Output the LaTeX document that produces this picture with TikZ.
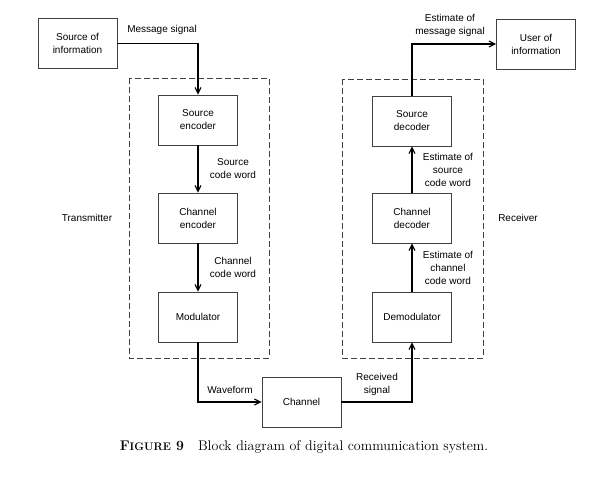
\documentclass[tikz,border=0pt]{standalone}
\usepackage{fontspec}
\setsansfont{Liberation Sans}
\usetikzlibrary{arrows.meta}
\tikzset{
    block/.style={draw=black!75, line width=0.7pt, minimum width=79pt, minimum height=50pt,
		align=center, font=\sffamily\fontsize{10}{13}\selectfont},
    lbl/.style={align=center, font=\sffamily\fontsize{10}{13}\selectfont},
    flow/.style={->, line width=1.1pt},
    unit/.style={draw=black!75, dashed, dash pattern=on 6pt off 3pt, line width=0.8pt}
}

\begin{document}
\begin{tikzpicture}[x=1pt, y=-1pt, >={Straight Barb[length=6pt,width=6pt]}]
			\useasboundingbox (0,0) rectangle (599,488);
			% dashed units
			\draw[unit] (129,78) rectangle (269,358);
			\draw[unit] (342,79) rectangle (483,358);
			\node[lbl] (tx) at (87,218) {Transmitter};
			\node[lbl] (rx) at (518,218) {Receiver};
			% blocks
			\node[block] (src) at (77.5,43.5) {Source of\\information};
			\node[block] (srcenc) at (198,120) {Source\\encoder};
			\node[block] (chenc) at (198,218) {Channel\\encoder};
			\node[block] (mod) at (198,317) {Modulator};
			\node[block] (chan) at (301.5,402) {Channel};
			\node[block] (demod) at (412,317) {Demodulator};
			\node[block] (chdec) at (412,218) {Channel\\decoder};
			\node[block] (srcdec) at (412,121) {Source\\decoder};
			\node[block] (user) at (536,44) {User of\\information};
			% connectors
			\draw[flow] (src.east) -| (srcenc.north);
			\draw[flow] (srcenc.south) -- (chenc.north);
			\draw[flow] (chenc.south) -- (mod.north);
			\draw[flow] (mod.south) |- (chan.west);
			\draw[flow] (chan.east) -| (demod.south);
			\draw[flow] (demod.north) -- (chdec.south);
			\draw[flow] (chdec.north) -- (srcdec.south);
			\draw[flow] (srcdec.north) |- (user.west);
			% signal labels
			\node[lbl] (msg) at (162,30) {Message signal};
			\node[lbl] (scw) at (233,168.5) {Source\\code word};
			\node[lbl] (ccw) at (233,267) {Channel\\code word};
			\node[lbl] (wave) at (230,390) {Waveform};
			\node[lbl] (recv) at (377,384) {Received\\signal};
			\node[lbl] (eccw) at (448,268) {Estimate of\\channel\\code word};
			\node[lbl] (escw) at (448,170) {Estimate of\\source\\code word};
			\node[lbl] (emsg) at (450,25) {Estimate of\\message signal};
			% caption
			\node (cap) at (304,447) {\fontsize{14}{16}\selectfont\textbf{F{\fontsize{11}{13}\selectfont IGURE} 9}\quad Block diagram of digital communication system.};
		\end{tikzpicture}
\end{document}
